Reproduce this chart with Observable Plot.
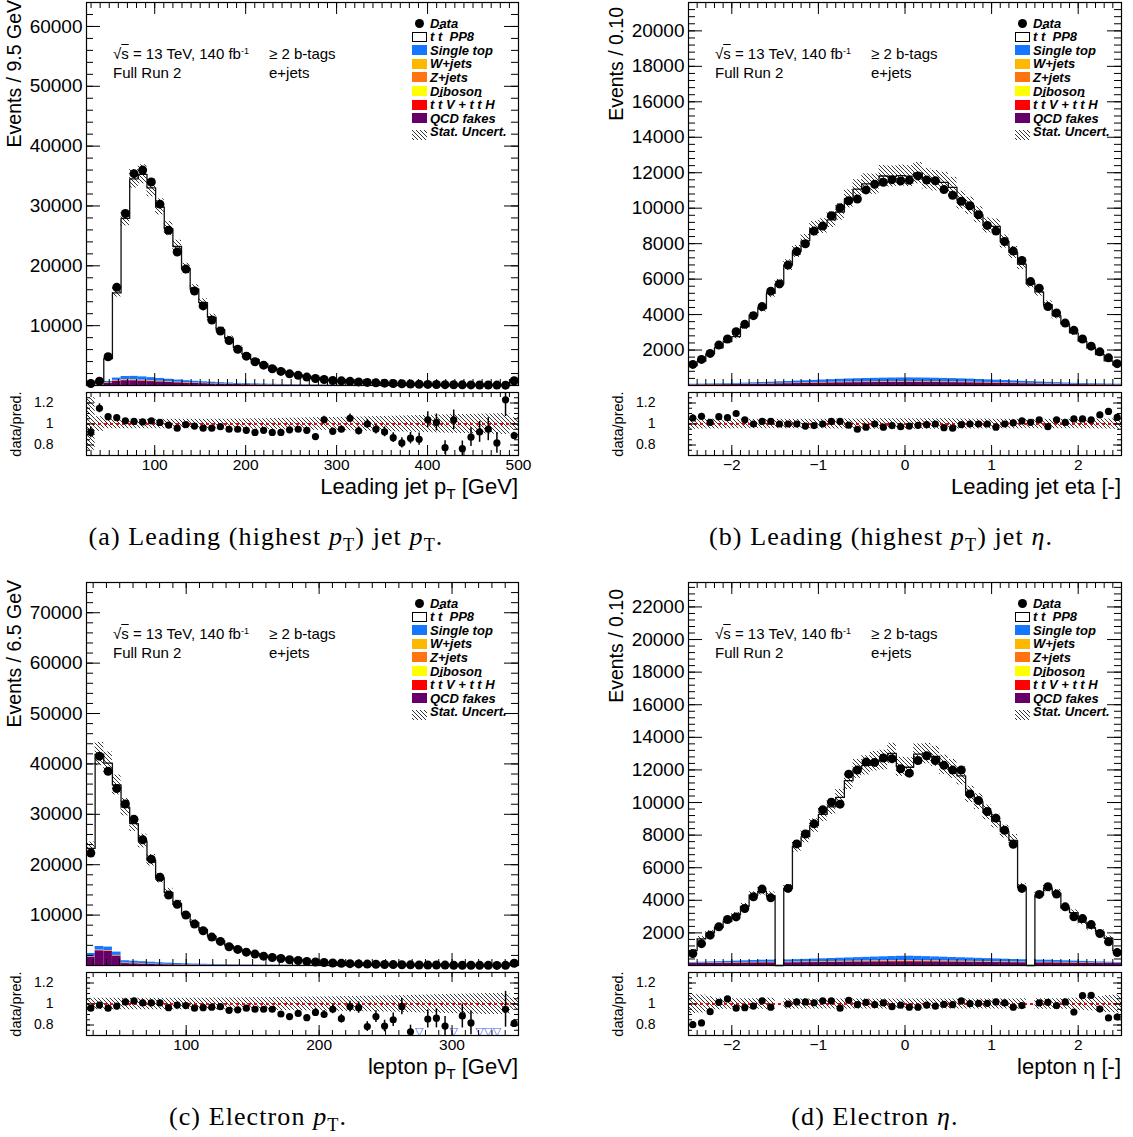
<!DOCTYPE html>
<html><head><meta charset="utf-8">
<script src="https://cdn.jsdelivr.net/npm/d3@7"></script>
<script src="https://cdn.jsdelivr.net/npm/@observablehq/plot@0.6"></script>
<style>
body{margin:0;background:#fff;}
#root{position:relative;width:1133px;height:1137px;overflow:hidden;background:#fff;font-family:"Liberation Sans",Arial,Helvetica,sans-serif;color:#000;}
.t{position:absolute;white-space:nowrap;line-height:1;}
.leg{font-weight:bold;font-style:italic;font-size:13px;}
.ob{text-decoration:overline;}
.vt{position:absolute;white-space:nowrap;line-height:1;writing-mode:vertical-rl;}
.cap{position:absolute;white-space:nowrap;line-height:1;font-family:"Liberation Serif","DejaVu Serif",serif;font-size:26px;letter-spacing:1.1px;transform:translateX(-50%);}
sub.s{font-size:0.7em;vertical-align:-0.35em;line-height:0;}
sup.s{font-size:0.6em;vertical-align:0.6em;line-height:0;}
</style></head><body>
<svg width="0" height="0" style="position:absolute"><defs>
<pattern id="hatch" patternUnits="userSpaceOnUse" width="4" height="4">
<path d="M-1,-1 L5,5 M-1,3 L1,5 M3,-1 L5,1" stroke="#000" stroke-width="0.8" fill="none"/>
</pattern></defs></svg>
<div id="root"></div>
<script>
// ---------- processes (stack order bottom -> top) ----------
const procNames  = ["QCD fakes", "ttV + ttH", "Diboson", "Z+jets", "W+jets", "Single top"];
const procColors = ["#660068", "#ff0000", "#ffff00", "#ff7410", "#ffb800", "#1577ff"];

// ---------- (a) Leading jet pT : 25-500 GeV, 50 bins ----------
const jetPtRange = [25, 500];
const jetPtData = [330,730,4800,16400,28750,35400,36000,34000,30300,25950,22300,19450,15800,13300,10950,9100,7500,6050,4900,3970,3400,2800,2350,1950,1700,1400,1170,1000,840,780,700,600,520,450,390,340,290,250,215,185,160,140,125,110,97,86,76,68,60,800];
const jetPtRatio = [0.92,1.15,1.07,1.06,1.03,1.025,1.02,1.03,1.015,0.99,0.96,0.995,0.98,0.96,0.96,0.975,0.95,0.95,0.94,0.92,0.94,0.92,0.92,0.945,0.95,0.94,0.88,1.04,0.93,0.95,1.055,0.935,1.0,0.95,0.925,0.87,0.82,0.865,0.855,1.04,1.015,0.775,1.04,0.765,0.875,0.925,0.95,0.82,1.23,0.89];
const jetPtUnc = [0.25,0.07,0.045,0.045,0.045,0.045,0.045,0.045,0.045,0.045,0.045,0.045,0.045,0.045,0.045,0.046,0.046,0.047,0.048,0.05,0.05,0.052,0.053,0.055,0.056,0.058,0.06,0.06,0.062,0.064,0.065,0.066,0.068,0.07,0.072,0.074,0.076,0.078,0.08,0.082,0.085,0.087,0.089,0.09,0.092,0.094,0.095,0.097,0.1,0.06];
const jetPtSingleTop = [10,30,200,380,520,560,540,500,450,400,350,310,270,240,210,185,160,140,125,110,95,85,75,66,58,51,45,40,35,31,27,24,21,19,17,15,13,12,10,9,8,7,6,6,5,5,4,4,3,40];
const jetPtWjets = [2,6,40,70,80,80,75,70,64,57,50,44,39,34,30,26,23,20,18,16,14,12,11,10,9,8,7,6,6,5,5,4,4,3,3,3,3,2,2,2,2,2,2,1,1,1,1,1,1,10];
const jetPtZjets = [1,3,20,35,40,40,38,35,32,28,25,22,19,17,15,13,11,10,9,8,7,6,5,5,4,4,3,3,3,2,2,2,2,2,1,1,1,1,1,1,1,1,1,1,1,1,1,1,1,5];
const jetPtDiboson = [0,1,4,6,7,7,7,6,6,5,5,4,4,3,3,3,2,2,2,2,2,1,1,1,1,1,1,1,1,1,1,1,1,1,0,0,0,0,0,0,0,0,0,0,0,0,0,0,0,1];
const jetPtTtv = [2,5,30,50,60,60,58,55,50,46,42,38,34,30,27,24,21,19,17,15,13,12,11,10,9,8,7,6,6,5,5,4,4,4,3,3,3,3,2,2,2,2,2,2,2,2,1,1,1,10];
const jetPtQcd = [20,40,380,700,800,780,720,650,580,510,440,390,340,300,260,220,190,160,140,120,105,90,80,70,62,55,48,42,37,33,29,26,23,20,18,16,14,13,12,11,10,9,8,7,7,6,6,5,5,40];
const jetPtYTicks = [10000,20000,30000,40000,50000,60000];
const jetPtXTicks = [100,200,300,400,500];

// ---------- (b) Leading jet eta : -2.5..2.5, 50 bins ----------
const jetEtaRange = [-2.5, 2.5];
const jetEtaData = [1190,1470,1810,2280,2620,3035,3450,3940,4450,5320,5730,6790,7560,7990,8710,8990,9580,10030,10420,10520,11030,11350,11460,11610,11540,11570,11820,11590,11550,11050,10730,10390,10140,9630,9030,8710,8120,7580,7050,5860,5490,4450,4090,3520,3110,2620,2220,1900,1560,1230];
const jetEtaRatio = [1.057,1.073,1.016,1.07,1.06,1.1,1.04,1.0,1.025,1.025,1.0,1.0,1.0,0.98,0.985,1.0,1.025,1.025,0.99,0.95,0.97,1.0,0.97,0.985,0.975,0.98,0.987,0.994,1.0,0.965,0.96,0.994,1.0,1.0,1.0,0.97,1.0,1.01,1.03,1.016,1.04,0.975,1.04,1.016,1.048,1.048,1.04,1.086,1.12,1.063];
const jetEtaUnc = [0.05,0.048,0.047,0.046,0.046,0.045,0.045,0.045,0.045,0.045,0.045,0.045,0.045,0.045,0.046,0.046,0.047,0.047,0.048,0.048,0.05,0.05,0.05,0.05,0.05,0.05,0.05,0.05,0.05,0.05,0.05,0.048,0.048,0.047,0.047,0.046,0.046,0.045,0.045,0.045,0.045,0.045,0.045,0.045,0.045,0.046,0.046,0.047,0.048,0.05];
const jetEtaSingleTop = [25,28,32,36,40,46,52,60,68,76,85,95,105,115,125,135,145,155,165,172,180,185,190,195,198,200,198,195,190,185,180,172,165,155,145,135,125,115,105,95,85,76,68,60,52,46,40,36,32,28];
const jetEtaWjets = [4,4,5,5,6,6,7,8,9,10,11,12,13,14,15,16,17,18,18,19,19,20,20,20,20,20,20,20,20,19,19,18,18,17,16,15,14,13,12,11,10,9,8,7,6,6,5,5,4,4];
const jetEtaZjets = [2,2,2,3,3,3,4,4,5,5,6,6,7,7,8,8,8,9,9,9,10,10,10,10,10,10,10,10,10,10,9,9,9,8,8,8,7,7,6,6,5,5,4,4,3,3,3,2,2,2];
const jetEtaDiboson = [1,1,1,1,1,1,1,1,1,1,1,1,1,1,1,1,1,1,1,1,1,1,1,1,1,1,1,1,1,1,1,1,1,1,1,1,1,1,1,1,1,1,1,1,1,1,1,1,1,1];
const jetEtaTtv = [4,4,5,5,6,7,8,9,10,11,12,13,14,15,16,17,18,19,19,20,20,21,21,21,21,21,21,21,21,20,20,19,19,18,17,16,15,14,13,12,11,10,9,8,7,6,5,5,4,4];
const jetEtaQcd = [35,38,42,45,50,55,62,70,78,85,95,100,110,118,125,132,140,148,155,160,165,168,172,175,175,178,175,172,168,165,160,155,148,140,132,125,118,110,100,95,85,78,70,62,55,50,45,42,38,35];
const jetEtaYTicks = [2000,4000,6000,8000,10000,12000,14000,16000,18000,20000];
const jetEtaXTicks = [-2,-1,0,1,2];

// ---------- (c) Electron pT : 25-350 GeV, 50 bins ----------
const lepPtRange = [25, 350];
const lepPtData = [22300,41540,38550,35100,32050,29000,24950,21100,17520,14000,12140,10020,8230,6900,5640,4780,3720,3190,2650,2260,1860,1590,1390,1130,1000,800,690,590,500,430,370,320,280,240,205,180,155,135,90,100,88,77,55,60,52,30,26,22,31,450];
const lepPtRatio = [0.96,0.99,0.96,0.98,1.02,1.03,1.01,1.01,1.01,0.965,0.99,0.985,0.96,0.965,0.97,0.975,0.94,0.945,0.96,0.95,0.95,0.95,0.905,0.88,0.91,0.87,0.92,0.9,0.95,0.86,0.975,0.965,0.785,0.88,0.79,0.85,0.975,0.735,0.6,0.857,0.865,0.79,0.6,0.886,0.82,0.6,0.6,0.6,0.95,0.815];
const lepPtUnc = [0.055,0.055,0.055,0.055,0.055,0.055,0.055,0.055,0.055,0.055,0.055,0.055,0.056,0.056,0.057,0.057,0.058,0.058,0.059,0.06,0.06,0.061,0.062,0.063,0.064,0.065,0.066,0.067,0.068,0.07,0.071,0.072,0.074,0.075,0.077,0.078,0.08,0.082,0.084,0.086,0.088,0.09,0.092,0.094,0.096,0.098,0.1,0.1,0.1,0.06];
const lepPtSingleTop = [650,700,680,650,420,400,370,330,290,250,215,185,160,138,118,100,86,74,64,55,47,41,36,31,27,23,20,17,15,13,11,10,9,8,7,6,5,5,4,4,3,3,3,2,2,2,2,2,2,12];
const lepPtWjets = [50,60,58,55,50,46,42,37,32,28,24,21,18,15,13,11,10,8,7,6,5,5,4,4,3,3,3,2,2,2,2,1,1,1,1,1,1,1,1,1,1,1,0,0,0,0,0,0,0,3];
const lepPtZjets = [30,40,38,35,30,27,24,21,18,15,13,11,9,8,7,6,5,4,4,3,3,3,2,2,2,2,1,1,1,1,1,1,1,1,1,0,0,0,0,0,0,0,0,0,0,0,0,0,0,2];
const lepPtDiboson = [3,4,4,4,3,3,3,3,2,2,2,2,2,1,1,1,1,1,1,1,1,1,1,0,0,0,0,0,0,0,0,0,0,0,0,0,0,0,0,0,0,0,0,0,0,0,0,0,0,0];
const lepPtTtv = [50,70,70,65,60,55,50,44,38,33,28,24,21,18,15,13,11,10,9,8,7,6,5,5,4,4,3,3,3,2,2,2,2,2,1,1,1,1,1,1,1,1,1,1,1,1,1,1,1,5];
const lepPtQcd = [1600,2900,2800,1850,380,320,260,210,170,140,115,95,80,68,58,50,42,36,31,27,23,20,17,15,13,11,10,9,8,7,6,5,5,4,4,3,3,3,2,2,2,2,2,1,1,1,1,1,1,8];
const lepPtYTicks = [10000,20000,30000,40000,50000,60000,70000];
const lepPtXTicks = [100,200,300];

// ---------- (d) Electron eta : -2.5..2.5, 50 bins ----------
const lepEtaRange = [-2.5, 2.5];
const lepEtaData = [730,1340,1860,2370,2820,2980,3500,4220,4690,4150,0,4730,7460,8070,8690,9550,10020,9900,11740,11990,12480,12460,12730,12690,12070,11800,12580,12870,12580,12280,11990,11990,10530,10120,9450,9040,8300,7440,4730,0,4360,4830,4380,3600,2990,2880,2510,1960,1450,790];
const lepEtaRatio = [0.803,0.82,0.927,1.016,1.048,0.96,0.965,0.98,1.03,0.97,null,1.0,1.02,1.02,1.012,1.03,1.03,0.96,1.035,0.994,1.016,0.994,1.01,0.975,0.99,0.97,0.97,0.99,0.98,0.997,0.994,1.03,1.003,1.006,1.006,1.02,1.01,0.97,0.985,null,1.01,1.016,0.985,1.02,0.924,1.08,1.083,0.952,0.867,0.876];
const lepEtaUnc = [0.09,0.085,0.07,0.055,0.05,0.05,0.05,0.05,0.05,0.055,0,0.05,0.048,0.048,0.048,0.048,0.048,0.048,0.048,0.048,0.048,0.048,0.048,0.048,0.048,0.048,0.048,0.048,0.048,0.048,0.048,0.048,0.048,0.048,0.048,0.048,0.048,0.048,0.05,0,0.05,0.05,0.05,0.05,0.055,0.06,0.065,0.07,0.08,0.085];
const lepEtaSingleTop = [40,50,60,70,80,90,100,110,120,125,0,130,140,150,160,170,180,190,200,210,220,230,240,250,260,265,260,250,240,230,220,210,200,190,180,170,160,150,140,0,125,120,110,100,90,80,70,60,50,40];
const lepEtaWjets = [10,11,12,13,14,15,16,17,18,18,0,19,20,21,22,23,24,25,26,27,28,28,29,29,30,30,29,29,28,28,27,26,25,24,23,22,21,20,19,0,18,18,17,16,15,14,13,12,11,10];
const lepEtaZjets = [5,5,6,6,7,7,8,8,9,9,0,10,10,11,11,12,12,13,13,14,14,15,15,15,15,15,15,15,15,14,14,13,13,12,12,11,11,10,10,0,9,9,8,8,7,7,6,6,5,5];
const lepEtaDiboson = [1,1,1,1,1,1,1,1,1,1,0,1,1,1,1,1,1,1,1,1,1,1,1,1,1,1,1,1,1,1,1,1,1,1,1,1,1,1,1,0,1,1,1,1,1,1,1,1,1,1];
const lepEtaTtv = [8,9,10,11,12,13,14,15,16,16,0,17,18,19,20,21,22,23,24,25,26,27,28,29,30,30,29,28,27,26,25,24,23,22,21,20,19,18,17,0,16,16,15,14,13,12,11,10,9,8];
const lepEtaQcd = [120,125,130,135,140,145,150,155,160,160,0,165,170,175,180,185,190,195,200,205,210,215,220,225,230,230,225,220,215,210,205,200,195,190,185,180,175,170,165,0,160,160,155,150,145,140,135,130,125,120];
const lepEtaYTicks = [2000,4000,6000,8000,10000,12000,14000,16000,18000,20000,22000];
const lepEtaXTicks = [-2,-1,0,1,2];

const ratioTicks = [0.8, 1, 1.2];

// ---------- rendering ----------
const FONT = '"Liberation Sans", Arial, Helvetica, sans-serif';
const root = document.getElementById("root");
function addDiv(cls, css, html) {
  const e = document.createElement("div");
  e.className = cls; Object.assign(e.style, css); e.innerHTML = html; root.appendChild(e); return e;
}
const fmtNum = d => d < 0 ? "\u2212" + Math.abs(d) : String(d);

function drawPanel(P) {
  const L = P.layout;
  const n = P.data.length;
  const bw = (P.range[1] - P.range[0]) / n;
  const bins = P.data.map((d, i) => {
    const r = P.ratio[i];
    const mc = r ? d / r : 0;
    return {lo: P.range[0] + i * bw, hi: P.range[0] + (i + 1) * bw, mid: P.range[0] + (i + 0.5) * bw,
            data: d, ratio: r, mc, unc: P.unc[i], err: Math.sqrt(d)};
  });
  const rows = [];
  bins.forEach((b, i) => {
    let c = 0;
    P.stack.forEach((arr, k) => {
      const v = arr[i] || 0;
      if (v > 0) rows.push({x1: b.lo, x2: b.hi, y1: c, y2: c + v, fill: procColors[k]});
      c += v;
    });
  });
  const stepPts = bins.map(b => ({x: b.lo, y: b.mc})).concat([{x: P.range[1], y: bins[n - 1].mc}]);
  const withData = bins.filter(b => b.data > 0 && b.ratio);
  const withMC = bins.filter(b => b.mc > 0);

  const W = L.FR - L.FL, H = L.MB - L.MT, RH = L.RB - L.RT;
  const mL = L.FL - L.svgLeft, mR = L.svgLeft + L.svgW - L.FR;
  const tk = (arr, opt) => Plot.tickX(arr, {x: d => d, stroke: "#000", strokeWidth: 1, ...opt});
  const tky = (arr, opt) => Plot.tickY(arr, {y: d => d, stroke: "#000", strokeWidth: 1, ...opt});

  // ---- main pad ----
  const main = Plot.plot({
    width: L.svgW, height: H + 4, marginTop: 2, marginBottom: 2, marginLeft: mL, marginRight: mR,
    x: {domain: P.range, axis: null},
    y: {domain: [0, P.yMax], ticks: P.yTicks, tickSize: 0, tickPadding: 4, tickFormat: fmtNum, label: null},
    color: {type: "identity"},
    style: {fontFamily: FONT, fontSize: "19px", overflow: "visible", background: "transparent", color: "#000"},
    marks: [
      Plot.rect(rows, {x1: "x1", x2: "x2", y1: "y1", y2: "y2", fill: "fill"}),
      Plot.line(stepPts, {x: "x", y: "y", curve: "step-after", stroke: "#111", strokeWidth: 1.3}),
      Plot.rect(withMC, {x1: "lo", x2: "hi", y1: b => b.mc * (1 - b.unc), y2: b => b.mc * (1 + b.unc), fill: "url(#hatch)"}),
      Plot.ruleX(withData, {x: "mid", y1: b => b.data - b.err, y2: b => b.data + b.err, stroke: "#000", strokeWidth: 1.5}),
      Plot.dot(withData, {x: "mid", y: "data", r: 4.5, fill: "#000", stroke: "none"}),
      tk(P.xMinor, {insetTop: H - 6}), tk(P.xMinor, {insetBottom: H - 6}),
      tk(P.xMajor, {insetTop: H - 12}), tk(P.xMajor, {insetBottom: H - 12}),
      tky(P.yMinor, {insetRight: W - 7}), tky(P.yMinor, {insetLeft: W - 7}),
      tky(P.yTicks, {insetRight: W - 14}), tky(P.yTicks, {insetLeft: W - 14}),
      Plot.frame({stroke: "#000", strokeWidth: 1.2})
    ]
  });
  Object.assign(main.style, {position: "absolute", left: L.svgLeft + "px", top: (L.MT - 2) + "px"});
  root.appendChild(main);

  // ---- ratio pad ----
  const low = bins.filter(b => b.data > 0 && b.ratio && b.ratio < 0.7);
  const inRange = withData.filter(b => b.ratio >= 0.7);
  const ratio = Plot.plot({
    width: L.svgW, height: RH + 8 + 24, marginTop: 8, marginBottom: 24, marginLeft: mL, marginRight: mR,
    x: {domain: P.range, ticks: P.xTicks, tickSize: 0, tickPadding: 3, tickFormat: fmtNum, label: null},
    y: {domain: [0.7, 1.3], ticks: ratioTicks, tickSize: 0, tickPadding: 33, tickFormat: d => d === 1 ? "1" : d.toFixed(1), label: null},
    style: {fontFamily: FONT, fontSize: "15.5px", overflow: "visible", background: "transparent", color: "#000"},
    marks: [
      Plot.rect(withMC, {x1: "lo", x2: "hi", y1: b => 1 - b.unc, y2: b => 1 + b.unc, fill: "url(#hatch)", clip: true}),
      Plot.ruleY([1], {stroke: "#ff0000", strokeWidth: 2, strokeDasharray: "3,3"}),
      Plot.ruleX(inRange, {x: "mid", y1: b => b.ratio - b.err / b.mc, y2: b => b.ratio + b.err / b.mc, stroke: "#000", strokeWidth: 1.5, clip: true}),
      Plot.dot(inRange, {x: "mid", y: "ratio", r: 3.6, fill: "#000", stroke: "none"}),
      Plot.text(low, {x: "mid", y: 0.742, text: () => "\u25BD", fill: "#4d62f0", fontSize: 11, fontFamily: "DejaVu Sans"}),
      tk(P.xMinor, {insetTop: RH - 5}), tk(P.xMinor, {insetBottom: RH - 5}),
      tk(P.xMajor, {insetTop: RH - 10}), tk(P.xMajor, {insetBottom: RH - 10}),
      tky(P.rMinor, {insetRight: W - 4}), tky(P.rMinor, {insetLeft: W - 4}),
      tky(ratioTicks, {insetRight: W - 8}), tky(ratioTicks, {insetLeft: W - 8}),
      Plot.frame({stroke: "#000", strokeWidth: 1.2})
    ]
  });
  Object.assign(ratio.style, {position: "absolute", left: L.svgLeft + "px", top: (L.RT - 8) + "px"});
  ratio.querySelectorAll("g[aria-label*='y-axis'] text").forEach(t => t.setAttribute("font-size", "14"));
  root.appendChild(ratio);

  // ---- titles ----
  addDiv("vt", {left: (L.FL - 71 - 10) + "px", top: L.yTitleTop + "px", fontSize: "19.5px", transform: "rotate(180deg)"}, P.yTitle);
  addDiv("vt", {left: (L.FL - 69 - 8) + "px", top: ((L.RT + L.RB) / 2) + "px", fontSize: "14.5px", transform: "translateY(-50%) rotate(180deg)"}, "data/pred.");
  addDiv("t", {left: L.FR + "px", top: (L.RB + 21) + "px", fontSize: "22px", transform: "translateX(-100%)"}, P.xTitle);
  addDiv("cap", {left: L.capX + "px", top: L.capY + "px"}, P.caption);

  // ---- annotation ----
  addDiv("t", {left: (L.FL + 27) + "px", top: (L.MT + 44) + "px", fontSize: "15px"}, '\u221A<span class="ob">s</span> = 13 TeV, 140 fb<sup class="s">-1</sup>');
  addDiv("t", {left: (L.FL + 27) + "px", top: (L.MT + 63) + "px", fontSize: "15px"}, "Full Run 2");
  addDiv("t", {left: (L.FL + 183) + "px", top: (L.MT + 44) + "px", fontSize: "15px"}, "\u2265 2 b-tags");
  addDiv("t", {left: (L.FL + 183) + "px", top: (L.MT + 63) + "px", fontSize: "15px"}, "e+jets");

  // ---- legend ----
  const lx = L.FR - 106, tx = L.FR - 88, ly0 = L.MT + 21, dy = 13.6;
  const entries = [
    {label: "Data", kind: "dot"},
    {label: 't <span class="ob">t</span>&nbsp; PP8', kind: "box", color: "#fff"},
    {label: "Single top", kind: "box", color: procColors[5]},
    {label: "W+jets", kind: "box", color: procColors[4]},
    {label: "Z+jets", kind: "box", color: procColors[3]},
    {label: "Diboson", kind: "box", color: procColors[2]},
    {label: 't <span class="ob">t</span> V + t <span class="ob">t</span> H', kind: "box", color: procColors[1]},
    {label: "QCD fakes", kind: "box", color: procColors[0]},
    {label: "Stat. Uncert.", kind: "hatch"}
  ];
  entries.forEach((e, k) => {
    const cy = ly0 + k * dy;
    if (e.kind === "dot") {
      addDiv("t", {left: (lx + 3) + "px", top: (cy - 4.5) + "px", width: "9px", height: "9px", borderRadius: "50%", background: "#000"}, "");
    } else if (e.kind === "box") {
      addDiv("t", {left: lx + "px", top: (cy - 5) + "px", width: "15px", height: "10px", background: e.color,
                   boxSizing: "border-box", border: e.color === "#fff" ? "1px solid #000" : "none"}, "");
    } else {
      addDiv("t", {left: lx + "px", top: (cy - 5) + "px", width: "15px", height: "10px"},
             '<svg width="15" height="10"><rect width="15" height="10" fill="url(#hatch)"/></svg>');
    }
    addDiv("t leg", {left: tx + "px", top: (cy - 6.5) + "px"}, e.label);
  });
}

const xMinorPt = d3.range(30, 501, 10), xMinorLep = d3.range(30, 351, 10), xMinorEta = d3.range(-25, 26).map(v => v / 10);
const rMinor = d3.range(14, 27).map(v => v / 20);

drawPanel({
  range: jetPtRange, data: jetPtData, ratio: jetPtRatio, unc: jetPtUnc,
  stack: [jetPtQcd, jetPtTtv, jetPtDiboson, jetPtZjets, jetPtWjets, jetPtSingleTop],
  yMax: 64000, yTicks: jetPtYTicks, yMinor: d3.range(2000, 64000, 2000), xTicks: jetPtXTicks, xMajor: jetPtXTicks, xMinor: xMinorPt, rMinor,
  yTitle: "Events / 9.5 GeV", xTitle: 'Leading jet p<sub class="s">T</sub> [GeV]',
  caption: '(a) Leading (highest <i>p</i><sub class="s">T</sub>) jet <i>p</i><sub class="s">T</sub>.',
  layout: {svgLeft: 0, svgW: 540, FL: 86, FR: 518, MT: 2, MB: 385, RT: 392, RB: 455, yTitleTop: 0, capX: 266, capY: 524}
});
drawPanel({
  range: jetEtaRange, data: jetEtaData, ratio: jetEtaRatio, unc: jetEtaUnc,
  stack: [jetEtaQcd, jetEtaTtv, jetEtaDiboson, jetEtaZjets, jetEtaWjets, jetEtaSingleTop],
  yMax: 21600, yTicks: jetEtaYTicks, yMinor: d3.range(400, 21600, 400), xTicks: jetEtaXTicks, xMajor: jetEtaXTicks, xMinor: xMinorEta, rMinor,
  yTitle: "Events / 0.10", xTitle: "Leading jet eta [-]",
  caption: '(b) Leading (highest <i>p</i><sub class="s">T</sub>) jet <i>η</i>.',
  layout: {svgLeft: 566, svgW: 567, FL: 688, FR: 1121, MT: 2, MB: 385, RT: 392, RB: 455, yTitleTop: 7, capX: 881, capY: 524}
});
drawPanel({
  range: lepPtRange, data: lepPtData, ratio: lepPtRatio, unc: lepPtUnc,
  stack: [lepPtQcd, lepPtTtv, lepPtDiboson, lepPtZjets, lepPtWjets, lepPtSingleTop],
  yMax: 76000, yTicks: lepPtYTicks, yMinor: d3.range(2000, 76000, 2000), xTicks: lepPtXTicks, xMajor: lepPtXTicks, xMinor: xMinorLep, rMinor,
  yTitle: "Events / 6.5 GeV", xTitle: 'lepton p<sub class="s">T</sub> [GeV]',
  caption: '(c) Electron <i>p</i><sub class="s">T</sub>.',
  layout: {svgLeft: 0, svgW: 540, FL: 86, FR: 518, MT: 582, MB: 965, RT: 972, RB: 1035, yTitleTop: 580, capX: 258, capY: 1104}
});
drawPanel({
  range: lepEtaRange, data: lepEtaData, ratio: lepEtaRatio, unc: lepEtaUnc,
  stack: [lepEtaQcd, lepEtaTtv, lepEtaDiboson, lepEtaZjets, lepEtaWjets, lepEtaSingleTop],
  yMax: 23500, yTicks: lepEtaYTicks, yMinor: d3.range(400, 23500, 400), xTicks: lepEtaXTicks, xMajor: lepEtaXTicks, xMinor: xMinorEta, rMinor,
  yTitle: "Events / 0.10", xTitle: "lepton η [-]",
  caption: '(d) Electron <i>η</i>.',
  layout: {svgLeft: 566, svgW: 567, FL: 688, FR: 1121, MT: 582, MB: 965, RT: 972, RB: 1035, yTitleTop: 589, capX: 875, capY: 1104}
});
</script>
</body></html>
